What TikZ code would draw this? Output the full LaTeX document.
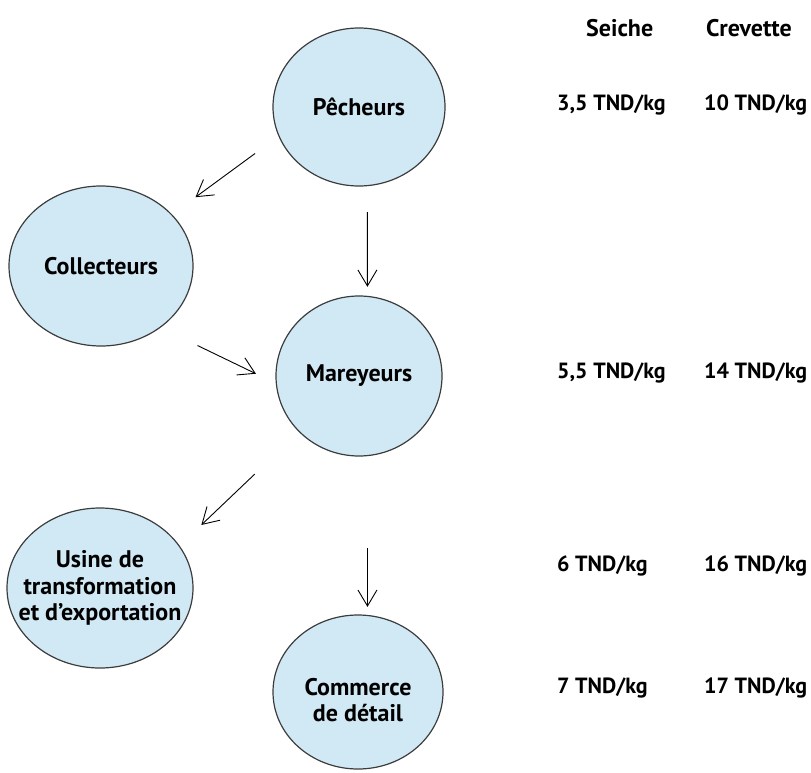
\documentclass[tikz,border=0pt]{standalone}
\usepackage{fontspec}
\setmainfont{PT Sans}
\usetikzlibrary{shapes,arrows.meta,positioning}
\definecolor{lagoon}{RGB}{209,233,245}
\definecolor{rim}{RGB}{60,60,60}
\tikzset{stage/.style={ellipse, draw=rim, line width=1.2pt, fill=lagoon, inner sep=0pt}}
\tikzset{stagetext/.style={font=\fontsize{24}{26.5}\selectfont\bfseries, align=center, inner sep=0pt}}
\tikzset{head/.style={anchor=west, font=\fontsize{24}{26.5}\selectfont\bfseries, inner sep=0pt}}
\tikzset{price/.style={anchor=west, font=\fontsize{22}{26}\selectfont\bfseries, inner sep=0pt}}
\tikzset{line/.style={draw, line width=0.9pt, -{Straight Barb[length=16pt,width=19pt]}}}

\begin{document}
\begin{tikzpicture}[x=1pt, y=-1pt]
        \useasboundingbox (0,0) rectangle (811,773);

        \node[stage, minimum width=172pt, minimum height=158pt, label={[stagetext]center:Pêcheurs}]   (pech) at (359,107) {};
        \node[stage, minimum width=184pt, minimum height=160pt, label={[stagetext]center:Collecteurs}] (coll) at (101,266) {};
        \node[stage, minimum width=166pt, minimum height=160pt, label={[stagetext]center:Mareyeurs}]  (mare) at (359,376) {};
        \node[stage, minimum width=186pt, minimum height=160pt, label={[stagetext]center:Usine de\\transformation\\et d’exportation}] (usin) at (100,588) {};
        \node[stage, minimum width=170pt, minimum height=154pt, label={[stagetext, yshift=-8pt]center:Commerce\\de détail}] (comm) at (358,692) {};

        \node[head] (seic) at (586,28) {Seiche};
        \node[head] (crev) at (706,28) {Crevette};
        \node[price] (sp1) at (557,105) {3,5 TND/kg};
        \node[price] (cp1) at (704,105) {10 TND/kg};
        \node[price] (sp2) at (557,373) {5,5 TND/kg};
        \node[price] (cp2) at (704,373) {14 TND/kg};
        \node[price] (sp3) at (557,566) {6 TND/kg};
        \node[price] (cp3) at (704,566) {16 TND/kg};
        \node[price] (sp4) at (557,688) {7 TND/kg};
        \node[price] (cp4) at (704,688) {17 TND/kg};

        \path[line, shorten <=29pt, shorten >=29pt] (pech.200) -- (coll.36);
        \path[line, shorten <=26pt, shorten >=9pt]  (pech.276) -- (mare.84);
        \path[line, shorten <=41pt, shorten >=22pt] (coll.314) -- (mare.185);
        \path[line, shorten <=61pt, shorten >=30pt] (mare.223) -- (usin.28);
        \path[line, shorten <=92pt, shorten >=8pt]  (mare.276) -- (comm.83);

      \end{tikzpicture}
\end{document}
